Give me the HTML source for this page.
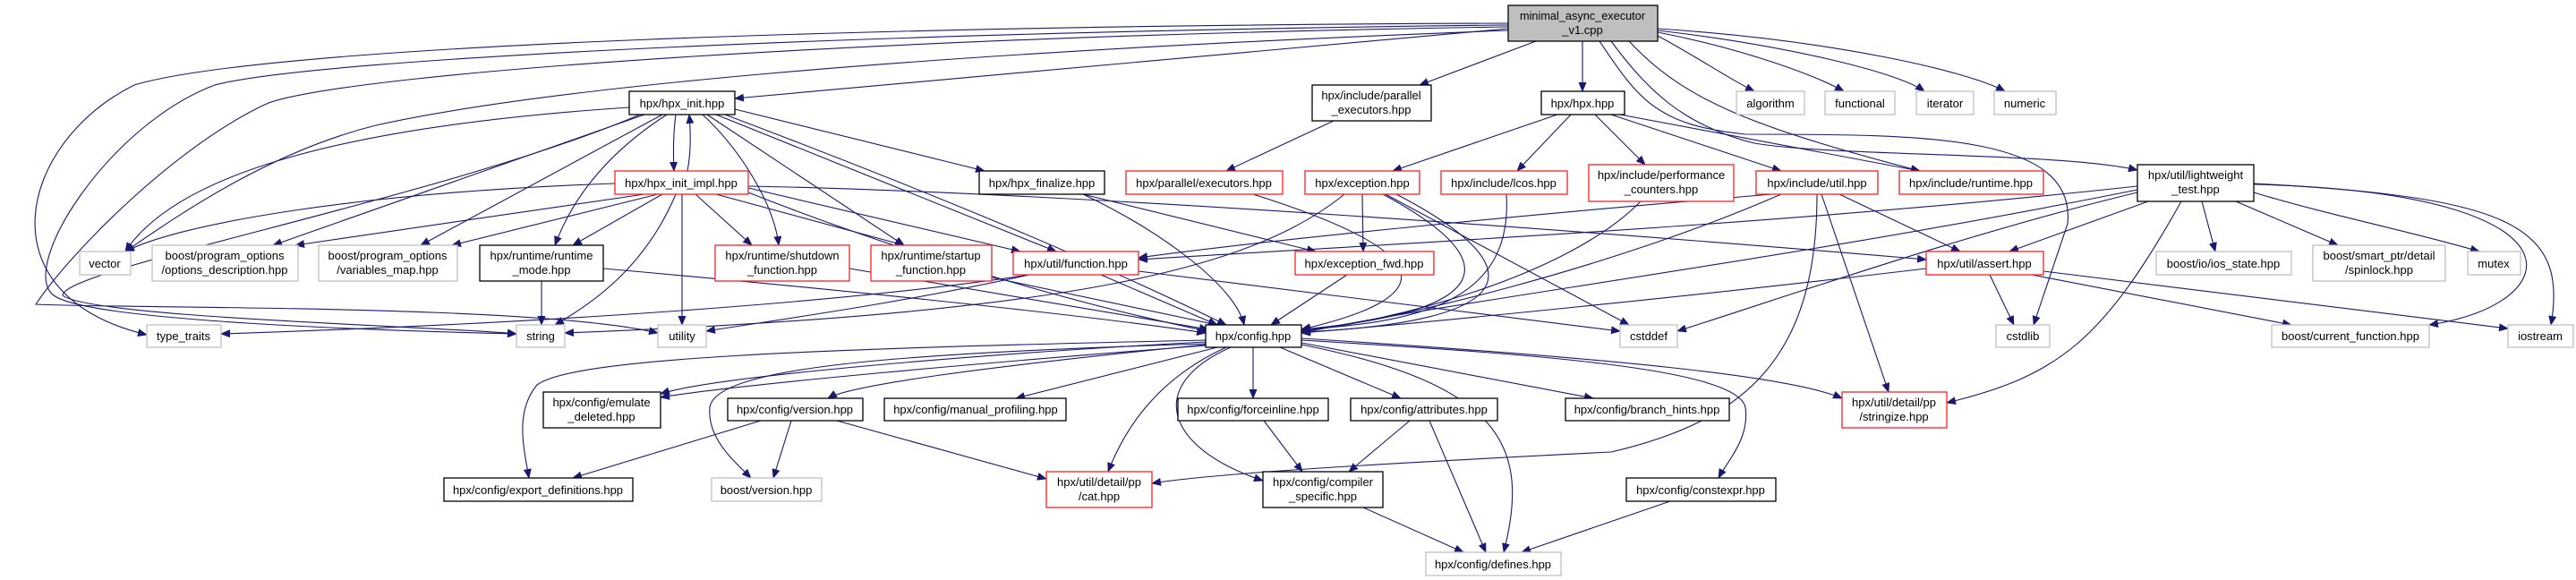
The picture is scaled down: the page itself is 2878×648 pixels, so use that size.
<!DOCTYPE html>
<html><head><meta charset="utf-8"><style>
html,body{margin:0;padding:0;background:#fff;}
svg{display:block;}
text{font-family:"Liberation Sans",sans-serif;font-size:13px;fill:#000;}
.e{fill:none;stroke:#191970;stroke-width:1.1;marker-end:url(#a);}
</style></head><body>
<svg width="2878" height="648" viewBox="0 0 2878 648" xmlns="http://www.w3.org/2000/svg">
<defs><marker id="a" markerWidth="11" markerHeight="9" refX="10" refY="4.5" orient="auto" markerUnits="userSpaceOnUse"><path d="M0,0 L11,4.5 L0,9z" fill="#191970"/></marker></defs>
<g>
<path class="e" d="M1685,32 L821,110"/>
<path class="e" d="M1716,46 L1586,95"/>
<path class="e" d="M1768,46 L1768,102"/>
<path class="e" d="M1852,40 C1890,60 1935,90 1960,102"/>
<path class="e" d="M1852,36 C1950,55 2030,85 2060,102"/>
<path class="e" d="M1852,34 C1990,50 2120,80 2150,102"/>
<path class="e" d="M1852,32 C2050,45 2200,80 2240,102"/>
<path class="e" d="M1800,46 C1840,100 1880,140 1960,160 C2050,175 2300,170 2388,190"/>
<path class="e" d="M1787,46 C1830,110 1850,140 1950,150 C2150,150 2320,150 2310,250 L2272,363"/>
<path class="e" d="M1820,46 C1880,110 1950,140 2145,191"/>
<path class="e" d="M1685,26 C1000,28 300,50 150,95 C20,160 -20,330 164,374"/>
<path class="e" d="M1685,28 C1000,35 350,65 240,95 C120,140 20,300 60,330 C100,360 450,370 577,373"/>
<path class="e" d="M1685,30 C1000,40 400,80 300,115 C200,160 80,280 40,340 C150,345 600,340 735,372"/>
<path class="e" d="M1685,34 C1000,60 600,100 420,140 C300,170 200,240 140,281"/>
<path class="e" d="M755,128 C752,150 752,170 753,191"/>
<path class="e" d="M768,191 C772,170 772,150 770,128"/>
<path class="e" d="M703,120 C400,140 200,190 140,281"/>
<path class="e" d="M720,128 L305,274"/>
<path class="e" d="M740,128 L470,274"/>
<path class="e" d="M745,128 C680,170 640,220 620,274"/>
<path class="e" d="M715,128 C500,220 70,300 70,330 C100,355 500,365 577,373"/>
<path class="e" d="M785,128 C830,170 865,230 870,274"/>
<path class="e" d="M790,128 L1010,274"/>
<path class="e" d="M800,128 L1180,281"/>
<path class="e" d="M821,122 L1100,191"/>
<path class="e" d="M810,128 C1000,200 1200,280 1370,363"/>
<path class="e" d="M687,205 C400,215 200,250 140,281"/>
<path class="e" d="M720,217 L330,274"/>
<path class="e" d="M735,217 L505,274"/>
<path class="e" d="M740,217 L640,274"/>
<path class="e" d="M755,217 C720,300 660,340 620,363"/>
<path class="e" d="M762,217 L762,363"/>
<path class="e" d="M777,217 L840,274"/>
<path class="e" d="M800,217 L1010,274"/>
<path class="e" d="M836,210 L1140,281"/>
<path class="e" d="M836,215 C1000,280 1200,340 1350,370"/>
<path class="e" d="M836,208 C1200,215 1800,260 2152,290"/>
<path class="e" d="M605,314 L605,363"/>
<path class="e" d="M674,300 C900,320 1200,350 1347,372"/>
<path class="e" d="M949,300 L1350,368"/>
<path class="e" d="M1108,310 L1360,363"/>
<path class="e" d="M1230,307 L1360,363"/>
<path class="e" d="M1150,307 C900,345 500,365 247,373"/>
<path class="e" d="M1150,307 C1000,340 850,360 789,370"/>
<path class="e" d="M1272,303 L1810,370"/>
<path class="e" d="M1210,217 C1300,260 1380,320 1390,363"/>
<path class="e" d="M1210,217 L1470,281"/>
<path class="e" d="M1490,135 L1370,191"/>
<path class="e" d="M1400,217 C1600,280 1620,330 1454,368"/>
<path class="e" d="M1740,128 L1556,191"/>
<path class="e" d="M1755,128 L1695,191"/>
<path class="e" d="M1782,128 L1838,184"/>
<path class="e" d="M1800,128 L1990,191"/>
<path class="e" d="M1810,128 L2145,191"/>
<path class="e" d="M1522,217 L1523,281"/>
<path class="e" d="M1545,217 C1700,300 1650,350 1454,368"/>
<path class="e" d="M1560,217 C1720,300 1700,360 1454,371"/>
<path class="e" d="M1548,217 L1820,363"/>
<path class="e" d="M1502,217 C1400,300 1200,350 631,372"/>
<path class="e" d="M1683,217 C1690,330 1600,360 1454,368"/>
<path class="e" d="M1833,225 C1750,310 1550,360 1454,370"/>
<path class="e" d="M1990,217 C1800,300 1550,360 1454,370"/>
<path class="e" d="M1980,217 C1700,240 1400,270 1272,288"/>
<path class="e" d="M2055,217 L2190,281"/>
<path class="e" d="M2035,217 L2110,438"/>
<path class="e" d="M2030,217 C2030,400 1950,470 1800,505 C1500,520 1350,530 1287,540"/>
<path class="e" d="M2388,212 C2000,290 1600,340 1454,372"/>
<path class="e" d="M2388,208 C2000,250 1600,270 1272,290"/>
<path class="e" d="M2400,225 L2245,281"/>
<path class="e" d="M2388,215 C2200,260 2000,330 1874,370"/>
<path class="e" d="M2437,225 C2350,380 2300,420 2175,450"/>
<path class="e" d="M2460,225 L2475,281"/>
<path class="e" d="M2498,225 L2612,274"/>
<path class="e" d="M2518,215 C2600,240 2700,260 2770,281"/>
<path class="e" d="M2518,206 C2900,215 2870,340 2714,363"/>
<path class="e" d="M2518,205 C2800,220 2870,250 2850,363"/>
<path class="e" d="M2223,307 L2250,363"/>
<path class="e" d="M2270,307 L2560,363"/>
<path class="e" d="M2283,303 L2802,367"/>
<path class="e" d="M2152,300 C1900,330 1600,360 1454,372"/>
<path class="e" d="M1505,307 L1420,363"/>
<path class="e" d="M1347,382 C1100,395 800,420 738,440"/>
<path class="e" d="M1347,386 C1100,405 820,430 738,444"/>
<path class="e" d="M1347,385 C1100,410 950,430 925,445"/>
<path class="e" d="M1360,388 L1135,445"/>
<path class="e" d="M1400,388 L1400,445"/>
<path class="e" d="M1430,388 L1565,445"/>
<path class="e" d="M1454,383 L1780,445"/>
<path class="e" d="M1454,378 C1800,400 2000,420 2058,445"/>
<path class="e" d="M1370,388 C1300,420 1260,470 1238,527"/>
<path class="e" d="M1375,388 C1280,430 1300,500 1411,537"/>
<path class="e" d="M1454,380 C1700,395 1940,410 1950,455 C1955,490 1930,515 1920,534"/>
<path class="e" d="M1454,385 C1680,430 1710,500 1680,617"/>
<path class="e" d="M1347,380 C900,390 640,400 600,430 C575,460 585,500 591,534"/>
<path class="e" d="M1347,384 C1000,395 800,410 793,455 C790,490 820,515 839,534"/>
<path class="e" d="M850,470 L640,534"/>
<path class="e" d="M884,470 L864,534"/>
<path class="e" d="M935,470 L1169,535"/>
<path class="e" d="M1412,470 L1455,527"/>
<path class="e" d="M1575,470 L1507,527"/>
<path class="e" d="M1597,470 L1660,617"/>
<path class="e" d="M1523,567 L1635,617"/>
<path class="e" d="M1866,560 L1700,617"/>
</g>
<g stroke-width="1.3">
<rect x="1685" y="6" width="167" height="40" fill="#bfbfbf" stroke="#000"/>
<text x="1768" y="22" text-anchor="middle" textLength="140" lengthAdjust="spacingAndGlyphs">minimal_async_executor</text>
<text x="1768" y="38" text-anchor="middle">_v1.cpp</text>
<g fill="#fff" stroke="#000">
<rect x="703" y="102" width="118" height="26"/>
<rect x="536" y="274" width="138" height="40"/>
<rect x="1347" y="363" width="107" height="25"/>
<rect x="1466" y="95" width="133" height="40"/>
<rect x="1722" y="102" width="93" height="26"/>
<rect x="1094" y="191" width="140" height="26"/>
<rect x="2388" y="184" width="130" height="41"/>
<rect x="607" y="438" width="131" height="40"/>
<rect x="813" y="445" width="151" height="25"/>
<rect x="988" y="445" width="203" height="25"/>
<rect x="1316" y="445" width="168" height="25"/>
<rect x="1509" y="445" width="164" height="25"/>
<rect x="1749" y="445" width="183" height="25"/>
<rect x="496" y="534" width="211" height="26"/>
<rect x="1411" y="527" width="134" height="40"/>
<rect x="1817" y="534" width="167" height="26"/>
</g>
<g fill="#fff" stroke="#ff2020">
<rect x="687" y="191" width="149" height="26"/>
<rect x="799" y="274" width="150" height="40"/>
<rect x="973" y="274" width="135" height="40"/>
<rect x="1132" y="281" width="140" height="26"/>
<rect x="1258" y="191" width="175" height="26"/>
<rect x="1458" y="191" width="128" height="26"/>
<rect x="1610" y="191" width="141" height="26"/>
<rect x="1775" y="184" width="162" height="41"/>
<rect x="1962" y="191" width="136" height="26"/>
<rect x="2122" y="191" width="161" height="26"/>
<rect x="2152" y="281" width="131" height="26"/>
<rect x="1447" y="281" width="155" height="26"/>
<rect x="1169" y="527" width="118" height="40"/>
<rect x="2058" y="438" width="117" height="40"/>
</g>
<g fill="#fff" stroke="#bfbfbf">
<rect x="89" y="281" width="57" height="26"/>
<rect x="170" y="274" width="163" height="40"/>
<rect x="356" y="274" width="155" height="40"/>
<rect x="164" y="363" width="83" height="25"/>
<rect x="577" y="363" width="54" height="25"/>
<rect x="735" y="363" width="54" height="25"/>
<rect x="1810" y="363" width="64" height="25"/>
<rect x="2230" y="363" width="60" height="25"/>
<rect x="2538" y="363" width="176" height="25"/>
<rect x="2802" y="363" width="73" height="25"/>
<rect x="1940" y="102" width="76" height="26"/>
<rect x="2039" y="102" width="78" height="26"/>
<rect x="2141" y="102" width="64" height="26"/>
<rect x="2228" y="102" width="69" height="26"/>
<rect x="2409" y="281" width="151" height="26"/>
<rect x="2584" y="274" width="148" height="40"/>
<rect x="2757" y="281" width="59" height="26"/>
<rect x="795" y="534" width="123" height="26"/>
<rect x="1593" y="617" width="151" height="26"/>
</g>
</g>
<g text-anchor="middle">
<text x="762" y="120">hpx/hpx_init.hpp</text>
<text x="761" y="209">hpx/hpx_init_impl.hpp</text>
<text x="605" y="290">hpx/runtime/runtime</text><text x="605" y="306">_mode.hpp</text>
<text x="874" y="290">hpx/runtime/shutdown</text><text x="874" y="306">_function.hpp</text>
<text x="1040" y="290">hpx/runtime/startup</text><text x="1040" y="306">_function.hpp</text>
<text x="1202" y="299">hpx/util/function.hpp</text>
<text x="1400" y="380">hpx/config.hpp</text>
<text x="1532" y="111">hpx/include/parallel</text><text x="1532" y="127">_executors.hpp</text>
<text x="1768" y="120">hpx/hpx.hpp</text>
<text x="1164" y="209">hpx/hpx_finalize.hpp</text>
<text x="1345" y="209">hpx/parallel/executors.hpp</text>
<text x="1522" y="209">hpx/exception.hpp</text>
<text x="1680" y="209">hpx/include/lcos.hpp</text>
<text x="1856" y="200">hpx/include/performance</text><text x="1856" y="216">_counters.hpp</text>
<text x="2030" y="209">hpx/include/util.hpp</text>
<text x="2202" y="209">hpx/include/runtime.hpp</text>
<text x="2453" y="200">hpx/util/lightweight</text><text x="2453" y="216">_test.hpp</text>
<text x="2217" y="299">hpx/util/assert.hpp</text>
<text x="1524" y="299">hpx/exception_fwd.hpp</text>
<text x="117" y="299">vector</text>
<text x="251" y="290">boost/program_options</text><text x="251" y="306">/options_description.hpp</text>
<text x="433" y="290">boost/program_options</text><text x="433" y="306">/variables_map.hpp</text>
<text x="205" y="380">type_traits</text>
<text x="604" y="380">string</text>
<text x="762" y="380">utility</text>
<text x="1842" y="380">cstddef</text>
<text x="2260" y="380">cstdlib</text>
<text x="2626" y="380">boost/current_function.hpp</text>
<text x="2838" y="380">iostream</text>
<text x="1978" y="120">algorithm</text>
<text x="2078" y="120">functional</text>
<text x="2173" y="120">iterator</text>
<text x="2262" y="120">numeric</text>
<text x="2484" y="299">boost/io/ios_state.hpp</text>
<text x="2658" y="290">boost/smart_ptr/detail</text><text x="2658" y="306">/spinlock.hpp</text>
<text x="2786" y="299">mutex</text>
<text x="672" y="454">hpx/config/emulate</text><text x="672" y="470">_deleted.hpp</text>
<text x="888" y="462">hpx/config/version.hpp</text>
<text x="1090" y="462">hpx/config/manual_profiling.hpp</text>
<text x="1400" y="462">hpx/config/forceinline.hpp</text>
<text x="1591" y="462">hpx/config/attributes.hpp</text>
<text x="1840" y="462">hpx/config/branch_hints.hpp</text>
<text x="2116" y="454">hpx/util/detail/pp</text><text x="2116" y="470">/stringize.hpp</text>
<text x="601" y="552">hpx/config/export_definitions.hpp</text>
<text x="856" y="552">boost/version.hpp</text>
<text x="1228" y="543">hpx/util/detail/pp</text><text x="1228" y="559">/cat.hpp</text>
<text x="1478" y="543">hpx/config/compiler</text><text x="1478" y="559">_specific.hpp</text>
<text x="1900" y="552">hpx/config/constexpr.hpp</text>
<text x="1668" y="635">hpx/config/defines.hpp</text>
</g>
</svg>
</body></html>
